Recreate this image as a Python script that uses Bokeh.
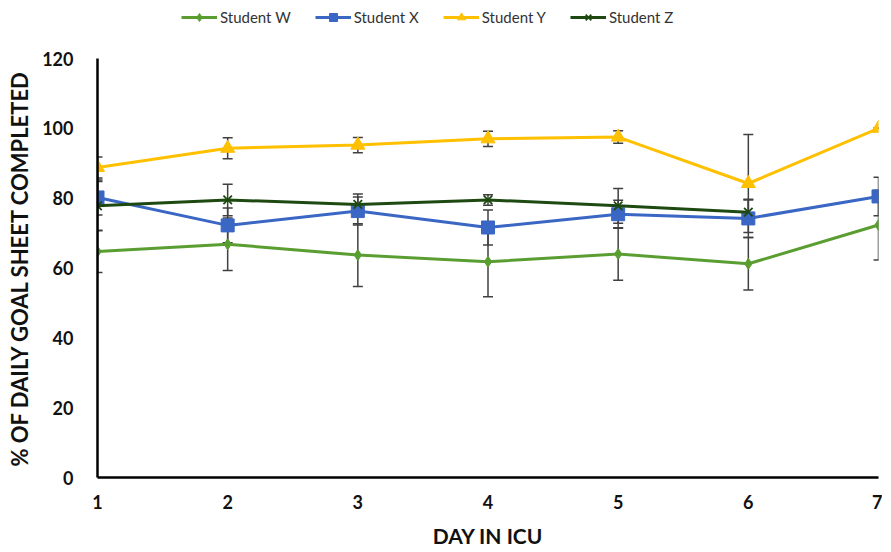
from bokeh.plotting import figure
from bokeh.models import (ColumnDataSource, Whisker, Legend, LegendItem, FixedTicker,
                          Range1d, TeeHead)
from bokeh.layouts import column
from bokeh.embed import file_html
from bokeh.resources import INLINE

days = [1, 2, 3, 4, 5, 6, 7]
days_z = [1, 2, 3, 4, 5, 6]

w_vals = [64.7, 66.8, 63.7, 61.8, 64.0, 61.2, 72.3]
w_err = [6.0, 7.5, 9.0, 10.0, 7.5, 7.5, 10.0]
x_vals = [80.2, 72.2, 76.3, 71.6, 75.4, 74.2, 80.5]
x_err = [5.0, 5.0, 4.0, 5.0, 4.0, 5.5, 5.5]
y_vals = [88.8, 94.3, 95.2, 97.0, 97.5, 84.2, 100.0]
y_err = [3.0, 3.0, 2.2, 2.2, 1.8, 14.0, 0.0]
z_vals = [77.8, 79.5, 78.2, 79.5, 77.8, 76.0]
z_err = [7.0, 4.5, 3.0, 1.5, 5.0, 3.5]

y_ticks = [0, 20, 40, 60, 80, 100, 120]
series_names = ["Student W", "Student X", "Student Y", "Student Z"]

FONT = "Lato"
err_color = "#404040"

styles = [("#5a9e32", "diamond", 11), ("#3a66c4", "square", 13),
          ("#ffc000", "triangle", 14), ("#1e4a12", "x", 12)]

BL, BR = 97, 4

# ---------- main chart ----------
p = figure(width=882, height=506, output_backend="svg", toolbar_location=None,
           x_range=Range1d(1, 7), y_range=Range1d(0, 120),
           min_border_left=BL, min_border_right=BR, min_border_top=14, min_border_bottom=73)
p.outline_line_color = None
p.xgrid.visible = False
p.ygrid.visible = False


def draw(fig, src, color, marker, size, with_err):
    if with_err:
        wh = Whisker(base="x", lower="lo", upper="hi", source=src,
                     line_color=err_color, line_width=1.5,
                     upper_head=TeeHead(size=10, line_color=err_color, line_width=1.5),
                     lower_head=TeeHead(size=10, line_color=err_color, line_width=1.5))
        fig.add_layout(wh)
    ln = fig.line("x", "y", source=src, line_color=color, line_width=3)
    if marker == "x":
        sc = fig.scatter("x", "y", source=src, marker="x", size=size, line_color=color,
                         line_width=1.8)
    else:
        sc = fig.scatter("x", "y", source=src, marker=marker, size=size,
                         fill_color=color, line_color=color)
    return [ln, sc]


sources = []
for xs, vals, errs in [(days, w_vals, w_err), (days, x_vals, x_err),
                       (days, y_vals, y_err), (days_z, z_vals, z_err)]:
    sources.append(ColumnDataSource(dict(
        x=xs, y=vals,
        lo=[v - e for v, e in zip(vals, errs)],
        hi=[v + e for v, e in zip(vals, errs)])))

for src, (c, m, s) in zip(sources, styles):
    draw(p, src, c, m, s, True)

for ax in (p.xaxis, p.yaxis):
    ax.axis_line_color = "black"
    ax.axis_line_width = 2.5
    ax.major_tick_line_color = None
    ax.minor_tick_line_color = None
    ax.major_label_text_font = FONT
    ax.major_label_text_font_size = "18px"
    ax.major_label_text_font_style = "bold"
    ax.major_label_text_color = "#111111"
    ax.axis_label_text_font = FONT
    ax.axis_label_text_font_style = "bold"
    ax.axis_label_text_color = "#111111"

p.xaxis.axis_label_text_font_size = "21px"
p.yaxis.axis_label_text_font_size = "22px"
p.xaxis.ticker = FixedTicker(ticks=days)
p.yaxis.ticker = FixedTicker(ticks=y_ticks)
p.xaxis.axis_label = "DAY IN ICU"
p.yaxis.axis_label = "% OF DAILY GOAL SHEET COMPLETED"
p.xaxis.major_label_standoff = 11
p.yaxis.major_label_standoff = 18
p.xaxis.axis_label_standoff = 11
p.yaxis.axis_label_standoff = 6

# ---------- legend strip ----------
lg = figure(width=882, height=44, output_backend="svg", toolbar_location=None,
            x_range=Range1d(0, 1), y_range=Range1d(1000, 1001),
            min_border_left=BL, min_border_right=BR, min_border_top=0, min_border_bottom=0)
lg.outline_line_color = None
lg.axis.visible = False
lg.grid.visible = False
leg_renderers = [draw(lg, src, c, m, s, False) for src, (c, m, s) in zip(sources, styles)]

legend = Legend(items=[LegendItem(label=n, renderers=r) for n, r in
                       zip(series_names, leg_renderers)],
                orientation="horizontal", location=(84, 17),
                label_text_font=FONT, label_text_font_size="15px",
                label_text_color="#333333", border_line_color=None,
                background_fill_alpha=0, glyph_width=36, spacing=24,
                margin=0, padding=2, label_standoff=3)
lg.add_layout(legend)

layout = column(lg, p, spacing=0)
open("out.html", "w").write(file_html(layout, INLINE))
